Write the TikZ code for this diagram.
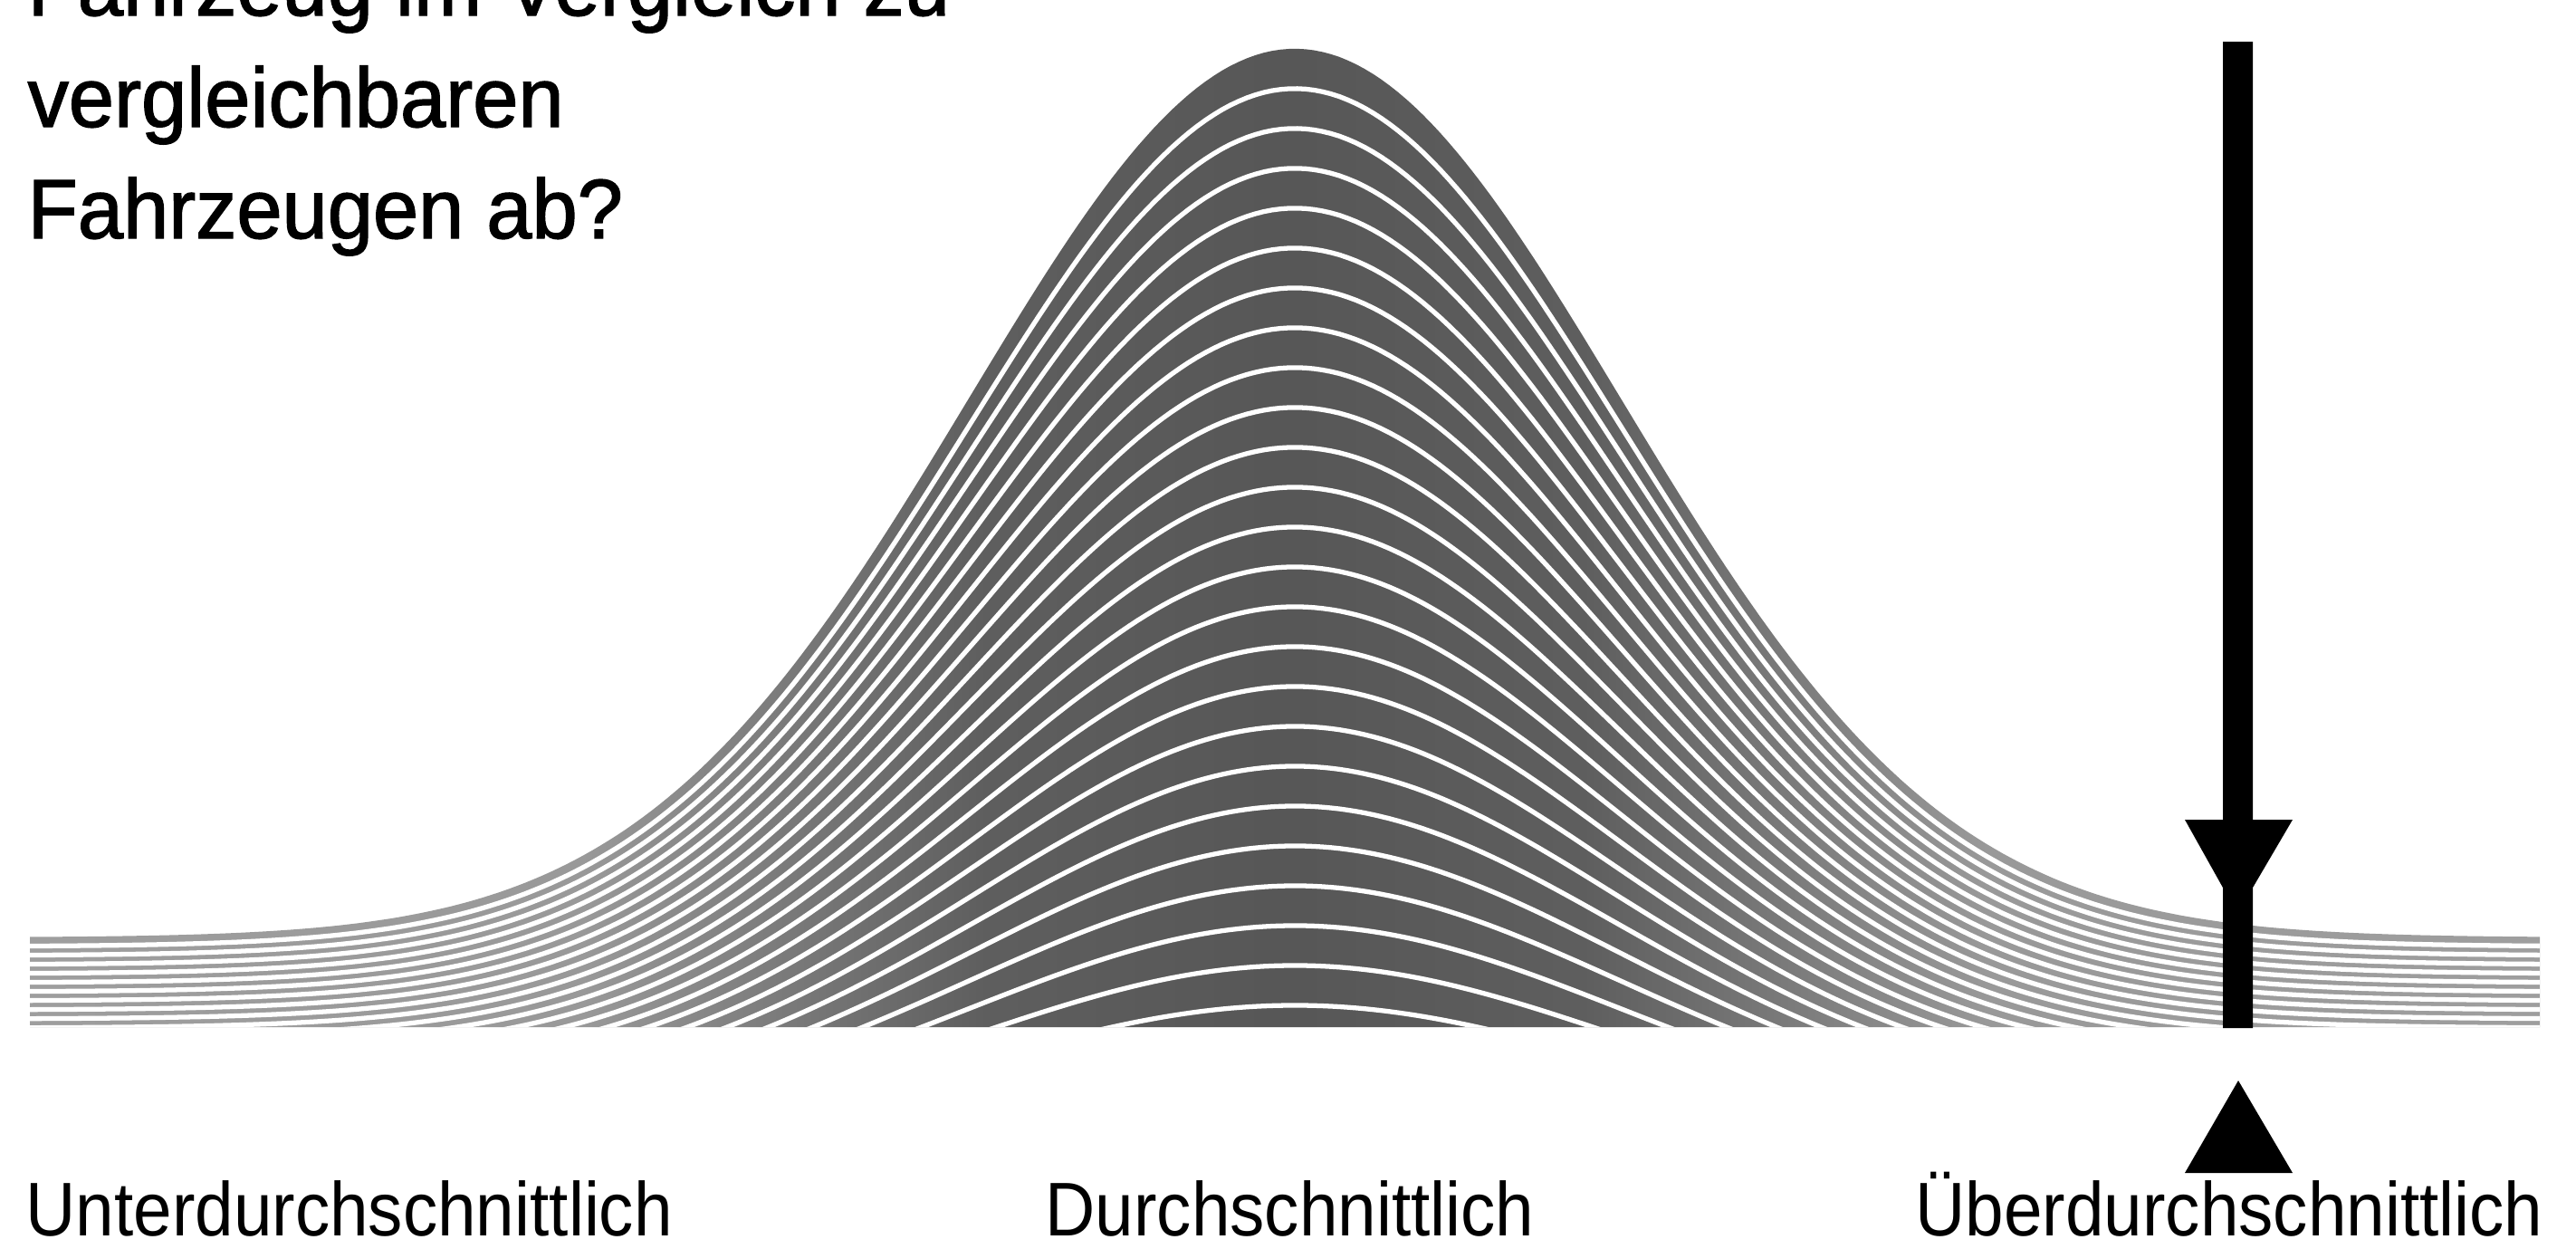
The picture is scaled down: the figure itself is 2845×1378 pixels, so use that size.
\documentclass[tikz,border=0pt]{standalone}
\usepackage{fontspec}
\newfontfamily\topfont{Liberation Sans}[FakeStretch=0.97,FakeBold=1.5]
\newfontfamily\labfont{Liberation Sans}[FakeStretch=0.91]
\pgfdeclarehorizontalshading{bellshade}{100bp}{color(0bp)=(black!38); color(25bp)=(black!38); color(36bp)=(black!40); color(40bp)=(black!52); color(44bp)=(black!63); color(50bp)=(black!66); color(56bp)=(black!63); color(60bp)=(black!52); color(64bp)=(black!40); color(75bp)=(black!38); color(100bp)=(black!38)}
\begin{document}
\begin{tikzpicture}[x=0.01cm,y=-0.01cm,
  declare function={bt(\x)=(\x-1430)/360; G(\x)=exp(-0.5*bt(\x)*bt(\x));},
  qtext/.style={anchor=base west, inner sep=0pt, font=\topfont\fontsize{26.46pt}{30pt}\selectfont},
  ltext/.style={anchor=base west, inner sep=0pt, font=\labfont\fontsize{23.9pt}{28pt}\selectfont},
  whiteline/.style={white, line width=1.5pt},
  solidblack/.style={fill=black, draw=none}]
\useasboundingbox (0,0) rectangle (2845,1378);
\fill[white] (0,0) rectangle (2845,1378);
% bell curve with band
\begin{scope}
\clip (33,1134) -- (33,1035) -- plot[domain=33:2805,samples=300] (\x,{1035-981*G(\x)}) -- (2805,1134) -- cycle;
\shade[shading=bellshade] (33,40) rectangle (2805,1134);
\foreach \k in {1,...,24}
  \draw[whiteline] plot[domain=33:2805,samples=300] (\x,{1035-981*G(\x)+\k*(10+34*G(\x))});
\end{scope}
% arrow
\path[solidblack] (2455,46) -- (2488,46) -- (2488,905) -- (2532,905) -- (2488,980) -- (2488,1135) -- (2455,1135) -- (2455,980) -- (2413,905) -- (2455,905) -- cycle;
\path[solidblack] (2472,1193) -- (2532,1295) -- (2413,1295) -- cycle;
% texts
\node[qtext] (q1) at (30,17) {Fahrzeug im Vergleich zu};
\node[qtext] (q2) at (30,140) {vergleichbaren};
\node[qtext] (q3) at (30,263) {Fahrzeugen ab?};
\node[ltext] (lu) at (28,1364) {Unterdurchschnittlich};
\node[ltext] (lm) at (1154,1364) {Durchschnittlich};
\node[ltext] (lo) at (2115,1364) {Überdurchschnittlich};
\end{tikzpicture}
\end{document}
